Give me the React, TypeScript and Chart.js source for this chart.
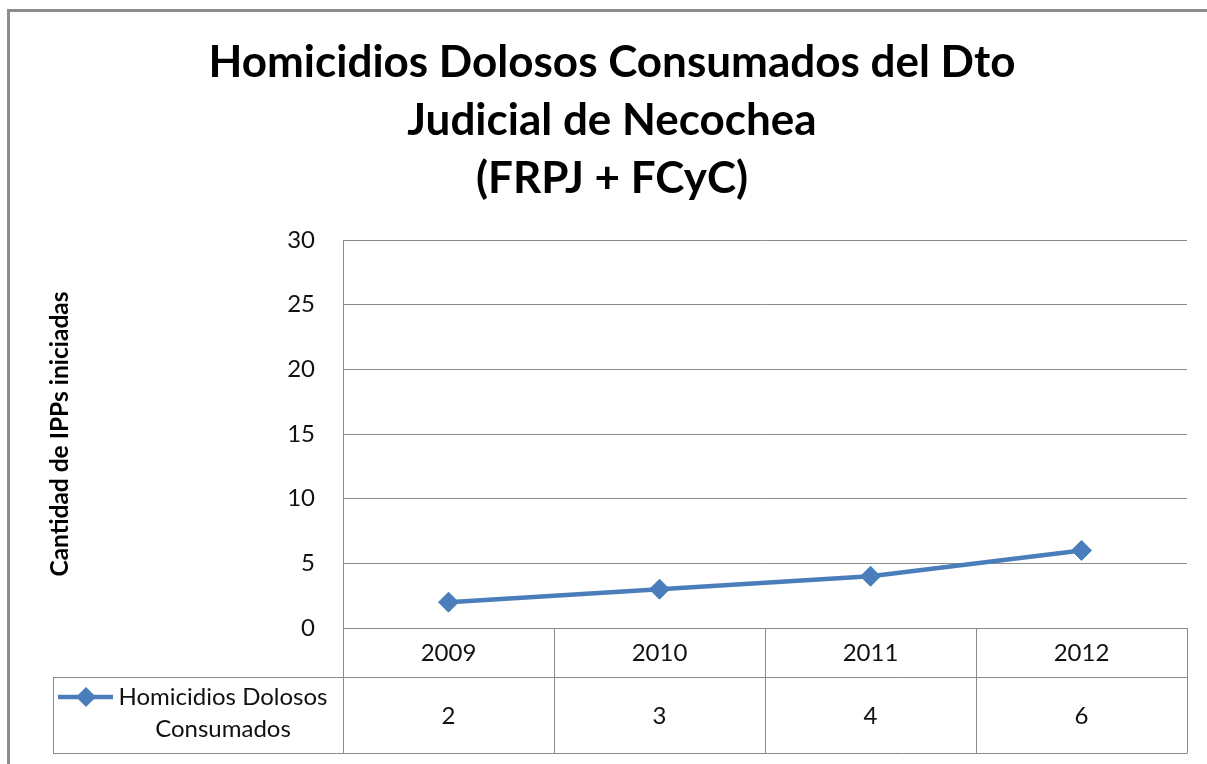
import React, { useEffect, useRef } from 'react';
import { Chart, registerables } from 'chart.js';

Chart.register(...registerables);

const categories = ['2009', '2010', '2011', '2012'];
const seriesLabel = ['Homicidios Dolosos', 'Consumados'];
const values = [2, 3, 4, 6];
const yMin = 0;
const yMax = 30;
const yStep = 5;
const titleLines = ['Homicidios Dolosos Consumados del Dto', 'Judicial de Necochea', '(FRPJ + FCyC)'];
const yTitle = 'Cantidad de IPPs iniciadas';

const FONT = 'Lato';
const BLUE = '#4A7EBB';
const GRID = '#8A8A8A';
const TEXT = '#111111';

const W = 1207;
const H = 764;

const tablePlugin = {
  id: 'dataTable',
  beforeDraw(chart: any) {
    const ctx = chart.ctx;
    ctx.save();
    ctx.fillStyle = '#ffffff';
    ctx.fillRect(0, 0, chart.width, chart.height);
    ctx.strokeStyle = '#8c8c8c';
    ctx.lineWidth = 3;
    ctx.strokeRect(8.5, 10.5, 1400, 1000);
    ctx.restore();
  },
  afterDraw(chart: any) {
    const ctx = chart.ctx;
    const area = chart.chartArea;
    const x = chart.scales.x;
    const top = area.bottom;
    const headerBottom = top + 49;
    const bottom = headerBottom + 76;
    const tableLeft = 53;
    const n = categories.length;
    const step = (area.right - area.left) / n;
    ctx.save();
    ctx.strokeStyle = GRID;
    ctx.lineWidth = 1;
    ctx.beginPath();
    ctx.moveTo(tableLeft, Math.round(headerBottom) + 0.5);
    ctx.lineTo(area.right, Math.round(headerBottom) + 0.5);
    ctx.moveTo(tableLeft, Math.round(bottom) + 0.5);
    ctx.lineTo(area.right, Math.round(bottom) + 0.5);
    for (let i = 0; i <= n; i++) {
      const vx = Math.round(area.left + i * step) + 0.5;
      ctx.moveTo(vx, top);
      ctx.lineTo(vx, bottom + 0.5);
    }
    ctx.moveTo(tableLeft + 0.5, headerBottom);
    ctx.lineTo(tableLeft + 0.5, bottom + 0.5);
    ctx.stroke();

    ctx.fillStyle = TEXT;
    ctx.font = `24px ${FONT}`;
    ctx.textAlign = 'center';
    ctx.textBaseline = 'middle';
    categories.forEach((c, i) => {
      const cx = x.getPixelForValue(i);
      ctx.fillText(c, cx, (top + headerBottom) / 2 + 1);
      ctx.fillText(String(values[i]), cx, (headerBottom + bottom) / 2 + 1);
    });

    const ly = headerBottom + 20;
    ctx.strokeStyle = BLUE;
    ctx.lineWidth = 4.5;
    ctx.beginPath();
    ctx.moveTo(58, ly);
    ctx.lineTo(113, ly);
    ctx.stroke();
    ctx.fillStyle = BLUE;
    ctx.beginPath();
    const dx = 86;
    const r = 10;
    ctx.moveTo(dx, ly - r);
    ctx.lineTo(dx + r, ly);
    ctx.lineTo(dx, ly + r);
    ctx.lineTo(dx - r, ly);
    ctx.closePath();
    ctx.fill();
    ctx.fillStyle = TEXT;
    ctx.fillText(seriesLabel[0], 223, ly);
    ctx.fillText(seriesLabel[1], 223, ly + 32);
    ctx.restore();
  },
};

export default function App() {
  const ref = useRef<HTMLCanvasElement | null>(null);
  useEffect(() => {
    if (!ref.current) return;
    Chart.defaults.font.family = FONT;
    const chart = new Chart(ref.current, {
      type: 'line',
      data: {
        labels: categories,
        datasets: [
          {
            label: seriesLabel.join(' '),
            data: values,
            borderColor: BLUE,
            backgroundColor: BLUE,
            borderWidth: 4.5,
            pointStyle: 'rectRot',
            pointRadius: 10,
            pointBackgroundColor: BLUE,
            pointBorderColor: BLUE,
            pointBorderWidth: 1,
            tension: 0,
            clip: false as any,
          },
        ],
      },
      options: {
        animation: false,
        responsive: false,
        events: [],
        layout: { padding: { left: 37, right: 20, top: 0, bottom: 0 } },
        plugins: {
          legend: { display: false },
          tooltip: { enabled: false },
          title: {
            display: true,
            text: titleLines,
            color: '#000000',
            font: { family: FONT, size: 44, weight: 'bold', lineHeight: 58 / 44 },
            padding: { top: 34, bottom: 32 },
          },
        },
        scales: {
          x: {
            type: 'category',
            offset: true,
            grid: { display: false },
            border: { display: false },
            ticks: { display: false },
            afterFit: (scale: any) => {
              scale.height = H - 628;
            },
          },
          y: {
            min: yMin,
            max: yMax,
            ticks: {
              stepSize: yStep,
              color: TEXT,
              padding: 28,
              font: { family: FONT, size: 24 },
            },
            grid: { color: GRID, lineWidth: 1, drawTicks: false },
            border: { display: true, color: GRID, width: 1 },
            title: {
              display: true,
              text: yTitle,
              color: '#000000',
              font: { family: FONT, size: 24.5, weight: 'bold', lineHeight: 1.2 },
              padding: { top: 8, bottom: 0 },
            },
            afterFit: (scale: any) => {
              scale.width = 343 - 37;
            },
          },
        },
      },
      plugins: [tablePlugin],
    });
    return () => chart.destroy();
  }, []);
  return (
    <div style={{ position: 'absolute', left: 0, top: 0, width: W, height: H, overflow: 'hidden' }}>
      <canvas ref={ref} width={W} height={H} style={{ display: 'block' }} />
    </div>
  );
}
